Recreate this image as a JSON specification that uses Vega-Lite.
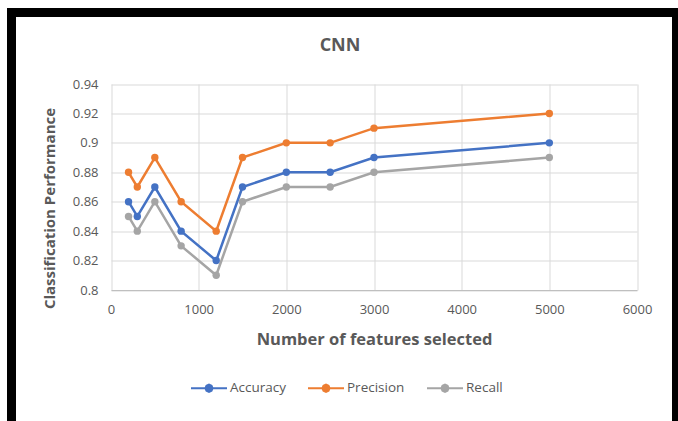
{
  "$schema": "https://vega.github.io/schema/vega-lite/v6.json",
  "width": 665,
  "height": 413,
  "autosize": "none",
  "padding": {"left": 11.5, "top": 12.5, "right": 1.5, "bottom": -4.5},
  "background": "white",
  "title": {
    "text": "CNN",
    "offset": -33.5,
    "baseline": "middle",
    "dx": -4,
    "dy": 18,
    "font": "Open Sans",
    "fontSize": 18,
    "fontWeight": "bold",
    "color": "#595959"
  },
  "data": {
    "values": [
      {"features": 200, "metric": "Accuracy", "value": 0.86},
      {"features": 300, "metric": "Accuracy", "value": 0.85},
      {"features": 500, "metric": "Accuracy", "value": 0.87},
      {"features": 800, "metric": "Accuracy", "value": 0.84},
      {"features": 1200, "metric": "Accuracy", "value": 0.82},
      {"features": 1500, "metric": "Accuracy", "value": 0.87},
      {"features": 2000, "metric": "Accuracy", "value": 0.88},
      {"features": 2500, "metric": "Accuracy", "value": 0.88},
      {"features": 3000, "metric": "Accuracy", "value": 0.89},
      {"features": 5000, "metric": "Accuracy", "value": 0.90},
      {"features": 200, "metric": "Precision", "value": 0.88},
      {"features": 300, "metric": "Precision", "value": 0.87},
      {"features": 500, "metric": "Precision", "value": 0.89},
      {"features": 800, "metric": "Precision", "value": 0.86},
      {"features": 1200, "metric": "Precision", "value": 0.84},
      {"features": 1500, "metric": "Precision", "value": 0.89},
      {"features": 2000, "metric": "Precision", "value": 0.90},
      {"features": 2500, "metric": "Precision", "value": 0.90},
      {"features": 3000, "metric": "Precision", "value": 0.91},
      {"features": 5000, "metric": "Precision", "value": 0.92},
      {"features": 200, "metric": "Recall", "value": 0.85},
      {"features": 300, "metric": "Recall", "value": 0.84},
      {"features": 500, "metric": "Recall", "value": 0.86},
      {"features": 800, "metric": "Recall", "value": 0.83},
      {"features": 1200, "metric": "Recall", "value": 0.81},
      {"features": 1500, "metric": "Recall", "value": 0.86},
      {"features": 2000, "metric": "Recall", "value": 0.87},
      {"features": 2500, "metric": "Recall", "value": 0.87},
      {"features": 3000, "metric": "Recall", "value": 0.88},
      {"features": 5000, "metric": "Recall", "value": 0.89}
    ]
  },
  "encoding": {
    "x": {
      "field": "features",
      "type": "quantitative",
      "scale": {"domain": [0, 6000], "range": [99.5, 625.5], "nice": false, "zero": false},
      "axis": {
        "orient": "top",
        "offset": -277.5,
        "values": [0, 1000, 2000, 3000, 4000, 5000, 6000],
        "format": "d",
        "grid": true,
        "gridColor": "#D9D9D9",
        "gridWidth": 1,
        "domain": true,
        "domainColor": "#BFBFBF",
        "ticks": false,
        "tickSize": 0,
        "labelBaseline": "top",
        "labelPadding": -13,
        "labelFlush": false,
        "labelOverlap": false,
        "labelFont": "Open Sans",
        "labelFontSize": 13,
        "labelColor": "#595959",
        "title": "Number of features selected",
        "titleY": 49,
        "titleBaseline": "middle",
        "titleFont": "Open Sans",
        "titleFontSize": 16.5,
        "titleFontWeight": "bold",
        "titleColor": "#595959"
      }
    },
    "y": {
      "field": "value",
      "type": "quantitative",
      "scale": {"domain": [0.8, 0.94], "range": [277.5, 71.5], "nice": false, "zero": false},
      "axis": {
        "orient": "left",
        "offset": -99.5,
        "values": [0.8, 0.82, 0.84, 0.86, 0.88, 0.9, 0.92, 0.94],
        "format": ".2~f",
        "grid": true,
        "gridColor": "#D9D9D9",
        "gridWidth": 1,
        "domain": false,
        "ticks": false,
        "tickSize": 0,
        "labelPadding": 13,
        "labelFont": "Open Sans",
        "labelFontSize": 13,
        "labelColor": "#595959",
        "title": "Classification Performance",
        "titleX": -62,
        "titleY": 195.5,
        "titleBaseline": "middle",
        "titleFont": "Open Sans",
        "titleFontSize": 15,
        "titleFontWeight": "bold",
        "titleColor": "#595959"
      }
    },
    "color": {
      "field": "metric",
      "type": "nominal",
      "scale": {
        "domain": ["Accuracy", "Precision", "Recall"],
        "range": ["#4472C4", "#ED7D31", "#A5A5A5"]
      },
      "legend": {
        "orient": "none",
        "legendX": 178.5,
        "legendY": 356.5,
        "direction": "horizontal",
        "title": null,
        "symbolType": "M-1,0H1M0.2,0L0.14,0.14L0,0.2L-0.14,0.14L-0.2,0L-0.14,-0.14L0,-0.2L0.14,-0.14Z",
        "symbolSize": 1296,
        "symbolStrokeWidth": 2,
        "labelFont": "Open Sans",
        "labelFontSize": 13.5,
        "labelColor": "#595959",
        "labelOffset": 2,
        "columnPadding": 18,
        "encode": {
          "symbols": {
            "update": {
              "fill": {"scale": "color", "field": "value"},
              "stroke": {"scale": "color", "field": "value"}
            }
          }
        }
      }
    }
  },
  "layer": [
    {"mark": {"type": "line", "strokeWidth": 2.5}},
    {"mark": {"type": "point", "filled": true, "size": 55, "opacity": 1}}
  ],
  "config": {
    "view": {"fill": "white", "stroke": "black", "strokeWidth": 9}
  }
}
